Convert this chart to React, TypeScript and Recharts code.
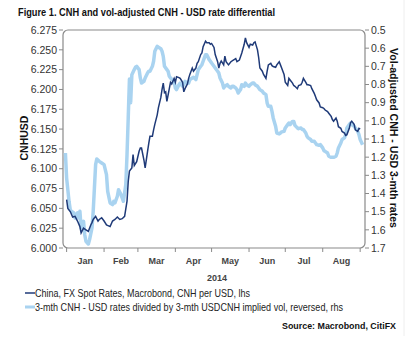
import React from 'react';
import { LineChart, Line, XAxis, YAxis, ReferenceArea } from 'recharts';

// Day of year 2014 (0 = 1 Jan)
const cnhDays = [0,1,3,5,7,9,11,12,14,16,18,20,21,22,24,26,27,29,31,33,36,38,40,42,44,46,48,50,51,52,54,55,56,58,60,61,62,64,65,67,68,69,71,72,73,75,76,78,79,80,81,82,83,85,86,87,89,90,91,93,94,96,97,98,100,101,102,104,105,107,108,109,111,112,113,115,116,118,119,120,122,123,125,126,127,128,130,131,132,134,136,138,140,141,143,145,147,148,149,151,152,154,155,156,158,159,160,162,163,165,166,167,169,170,171,173,174,176,177,178,180,181,183,184,185,187,188,189,191,192,194,195,196,198,199,200,202,203,205,206,207,209,210,212,213,214,216,217,219,220,221,223,224,225,227,228,230,231,232,234,235,236,238,239,241,242,243];
const cnhValues = [6.061,6.050,6.046,6.039,6.040,6.034,6.027,6.019,6.025,6.023,6.021,6.029,6.032,6.036,6.040,6.034,6.036,6.038,6.034,6.029,6.027,6.034,6.036,6.039,6.036,6.037,6.040,6.059,6.084,6.097,6.101,6.118,6.104,6.109,6.122,6.126,6.126,6.111,6.101,6.122,6.132,6.141,6.141,6.149,6.156,6.168,6.177,6.190,6.200,6.208,6.196,6.197,6.185,6.201,6.209,6.207,6.214,6.209,6.216,6.215,6.214,6.209,6.197,6.201,6.207,6.214,6.219,6.227,6.223,6.227,6.233,6.235,6.244,6.246,6.254,6.261,6.259,6.259,6.257,6.258,6.253,6.244,6.235,6.227,6.233,6.236,6.231,6.242,6.235,6.231,6.235,6.237,6.239,6.235,6.237,6.246,6.257,6.265,6.259,6.253,6.257,6.256,6.259,6.260,6.250,6.240,6.227,6.223,6.219,6.214,6.223,6.231,6.233,6.230,6.229,6.228,6.231,6.235,6.231,6.227,6.219,6.209,6.205,6.214,6.212,6.208,6.205,6.204,6.201,6.205,6.206,6.209,6.214,6.209,6.206,6.206,6.205,6.201,6.195,6.191,6.187,6.183,6.178,6.177,6.176,6.174,6.172,6.170,6.166,6.162,6.160,6.164,6.160,6.153,6.151,6.147,6.145,6.142,6.143,6.151,6.158,6.160,6.156,6.149,6.147,6.151,6.150];

const volDays = [-1,0,2,3,4,6,7,9,10,11,12,14,15,16,18,19,21,22,23,24,25,27,29,31,33,34,36,38,39,40,42,43,45,46,47,49,50,51,52,53,54,56,57,58,60,61,62,64,65,67,68,69,71,72,73,75,76,78,79,80,81,83,84,85,86,89,90,91,93,94,96,97,98,100,101,102,104,105,107,108,109,111,112,113,115,116,118,119,120,122,123,125,126,127,129,130,131,133,134,136,137,138,140,141,142,144,145,147,148,149,151,152,154,155,156,158,159,160,162,163,165,166,167,169,170,171,173,174,176,177,178,180,181,183,184,185,187,188,189,191,192,194,195,196,198,199,200,202,203,205,206,207,209,210,212,213,214,216,217,219,220,221,223,224,225,227,228,230,231,232,234,235,236,238,239,241,242,243,245];
const volValues = [1.177,1.315,1.443,1.489,1.498,1.507,1.535,1.507,1.535,1.498,1.590,1.553,1.627,1.663,1.678,1.654,1.590,1.498,1.370,1.241,1.210,1.223,1.232,1.241,1.296,1.388,1.452,1.461,1.443,1.452,1.415,1.379,1.406,1.425,1.443,1.351,1.186,0.984,0.770,0.900,0.746,0.718,0.705,0.700,0.718,0.764,0.792,0.783,0.764,0.737,0.727,0.727,0.700,0.672,0.617,0.590,0.595,0.603,0.617,0.645,0.700,0.718,0.727,0.755,0.764,0.783,0.819,0.828,0.801,0.792,0.810,0.801,0.783,0.792,0.792,0.773,0.764,0.760,0.773,0.746,0.718,0.700,0.691,0.672,0.636,0.636,0.663,0.672,0.682,0.700,0.709,0.727,0.737,0.764,0.792,0.819,0.810,0.801,0.810,0.819,0.810,0.810,0.819,0.828,0.847,0.828,0.801,0.810,0.792,0.801,0.810,0.801,0.792,0.792,0.801,0.810,0.819,0.828,0.837,0.847,0.856,0.902,0.920,0.920,0.948,0.984,1.030,1.067,1.072,1.067,1.061,1.058,1.039,1.021,1.012,1.021,1.003,1.003,1.025,1.039,1.043,1.039,1.048,1.048,1.067,1.085,1.094,1.103,1.113,1.113,1.122,1.131,1.135,1.131,1.149,1.164,1.168,1.177,1.195,1.201,1.201,1.201,1.195,1.177,1.149,1.122,1.103,1.094,1.076,1.039,1.021,1.012,1.021,1.030,1.039,1.058,1.076,1.103,1.131];

const monthStarts = [0, 31, 59, 90, 120, 151, 181, 212, 243];
const monthLabels = ['Jan', 'Feb', 'Mar', 'Apr', 'May', 'Jun', 'Jul', 'Aug'];
const yearLabel = '2014';
const leftTicks = [6.0, 6.025, 6.05, 6.075, 6.1, 6.125, 6.15, 6.175, 6.2, 6.225, 6.25, 6.275];
const rightTicks = [0.5, 0.6, 0.7, 0.8, 0.9, 1.0, 1.1, 1.2, 1.3, 1.4, 1.5, 1.6, 1.7];

const titleText = 'Figure 1. CNH and vol-adjusted CNH - USD rate differential';
const leftAxisTitle = 'CNHUSD';
const rightAxisTitle = 'Vol-adjusted CNH - USD 3-mth rates';
const legend1 = 'China, FX Spot Rates, Macrobond, CNH per USD, lhs';
const legend2 = '3-mth CNH - USD rates divided by 3-mth USDCNH implied vol, reversed, rhs';
const sourceText = 'Source: Macrobond, CitiFX';

const cnhData = cnhDays.map((d, i) => ({ d, v: cnhValues[i] }));
const volData = volDays.map((d, i) => ({ d, v: volValues[i] }));

const W = 419;
const H = 343;
const PLOT_LEFT = 63;
const PLOT_RIGHT = 365;
const PLOT_TOP = 30;
const PLOT_BOTTOM = 248;
const X_DOMAIN: [number, number] = [-3, 247];
const PX_PER_DAY = (PLOT_RIGHT - PLOT_LEFT) / (X_DOMAIN[1] - X_DOMAIN[0]);

const DARK = '#1f3a78';
const LIGHT = '#a9d3f0';
const AXIS = '#8a8a8a';
const FONT = 'Arial, "Liberation Sans", sans-serif';
const NARROW = '"Liberation Sans Narrow", "Arial Narrow", Arial, sans-serif';

const MonthTick = (props: any) => {
  const { x, y, payload } = props;
  const i = monthStarts.indexOf(payload.value);
  if (i < 0 || i >= monthLabels.length) return null;
  const dx = ((monthStarts[i + 1] - monthStarts[i]) / 2) * PX_PER_DAY;
  return (
    <text x={x + dx} y={y} dy="0.71em" textAnchor="middle" fontFamily={FONT} fontSize={9} fontWeight="bold" fill="#444">
      {monthLabels[i]}
    </text>
  );
};

export default function App() {
  return (
    <div style={{ position: 'fixed', left: 0, top: 0, width: W, height: H, background: '#fff' }}>
      <LineChart
        width={W}
        height={H}
        margin={{ top: PLOT_TOP, right: 0, left: 0, bottom: H - PLOT_BOTTOM - 30 }}
      >
        <XAxis
          dataKey="d"
          type="number"
          domain={X_DOMAIN}
          ticks={monthStarts}
          allowDataOverflow
          height={30}
          axisLine={false}
          tickLine={{ stroke: AXIS }}
          tickSize={4}
          tickMargin={6}
          tick={<MonthTick />}
          interval={0}
        />
        <YAxis
          yAxisId="left"
          orientation="left"
          width={PLOT_LEFT}
          domain={[6.0, 6.275]}
          ticks={leftTicks}
          allowDataOverflow
          axisLine={false}
          tickLine={{ stroke: AXIS }}
          tickSize={4}
          tickMargin={2}
          interval={0}
          tickFormatter={(v: number) => v.toFixed(3)}
          tick={{ fontFamily: FONT, fontSize: 10.5, fill: '#333' }}
        />
        <YAxis
          yAxisId="right"
          orientation="right"
          width={W - PLOT_RIGHT}
          domain={[0.5, 1.7]}
          reversed
          ticks={rightTicks}
          allowDataOverflow
          axisLine={false}
          tickLine={{ stroke: AXIS }}
          tickSize={4}
          tickMargin={2}
          interval={0}
          tickFormatter={(v: number) => v.toFixed(1)}
          tick={{ fontFamily: FONT, fontSize: 10.5, fill: '#333' }}
        />
        <ReferenceArea
          yAxisId="left"
          x1={X_DOMAIN[0]}
          x2={X_DOMAIN[1]}
          y1={6.0}
          y2={6.275}
          fill="none"
          stroke={AXIS}
          strokeWidth={1.2}
          radius={5}
          ifOverflow="visible"
        />
        <Line
          yAxisId="right"
          data={volData}
          dataKey="v"
          stroke={LIGHT}
          strokeWidth={3.5}
          dot={false}
          isAnimationActive={false}
          strokeLinejoin="round"
        />
        <Line
          yAxisId="left"
          data={cnhData}
          dataKey="v"
          stroke={DARK}
          strokeWidth={1.5}
          dot={false}
          isAnimationActive={false}
        />
      </LineChart>
      <svg width={W} height={H} style={{ position: 'absolute', left: 0, top: 0, pointerEvents: 'none' }}>
        <text x={18} y={16} fontFamily={NARROW} fontWeight="bold" fontSize={11} fill="#111" textLength={257} lengthAdjust="spacingAndGlyphs">
          {titleText}
        </text>
        <text x={24} y={138} transform="rotate(-90 24 138)" textAnchor="middle" dominantBaseline="central" fontFamily={FONT} fontWeight="bold" fontSize={10.5} fill="#111">
          {leftAxisTitle}
        </text>
        <text x={394} y={138} transform="rotate(90 394 138)" textAnchor="middle" dominantBaseline="central" fontFamily={NARROW} fontWeight="bold" fontSize={10.5} fill="#111" textLength={180} lengthAdjust="spacingAndGlyphs">
          {rightAxisTitle}
        </text>
        <text x={(PLOT_LEFT + PLOT_RIGHT) / 2 + 3} y={281} textAnchor="middle" fontFamily={FONT} fontWeight="bold" fontSize={9} fill="#444">
          {yearLabel}
        </text>
        <line x1={25} x2={35} y1={293} y2={293} stroke={DARK} strokeWidth={1.5} />
        <text x={35} y={296.5} fontFamily={NARROW} fontSize={10.5} fill="#222" textLength={215} lengthAdjust="spacingAndGlyphs">
          {legend1}
        </text>
        <line x1={25} x2={35} y1={307} y2={307} stroke={LIGHT} strokeWidth={3} />
        <text x={35} y={310.5} fontFamily={NARROW} fontSize={10.5} fill="#222" textLength={308} lengthAdjust="spacingAndGlyphs">
          {legend2}
        </text>
        <text x={396} y={329} textAnchor="end" fontFamily={FONT} fontWeight="bold" fontSize={9.5} fill="#111" textLength={114} lengthAdjust="spacingAndGlyphs">
          {sourceText}
        </text>
        <line x1={404} x2={404} y1={0} y2={336} stroke="#eeeeee" strokeWidth={1} />
      </svg>
    </div>
  );
}
